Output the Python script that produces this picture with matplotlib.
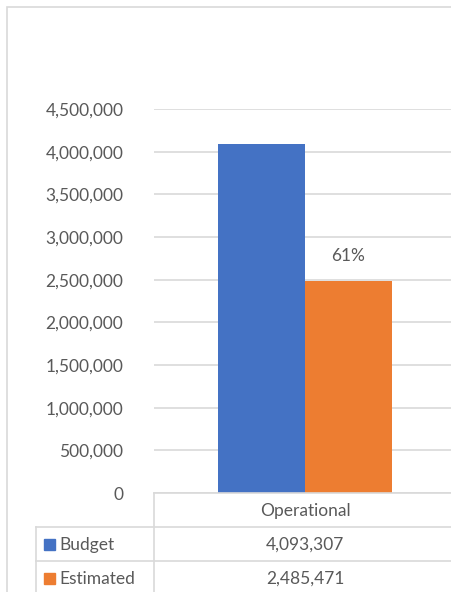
import numpy as np
import matplotlib.pyplot as plt
from matplotlib.lines import Line2D
from matplotlib.patches import Rectangle
from matplotlib.ticker import FuncFormatter

categories = ['Operational']
budget = [4093307]
estimated = [2485471]
series_names = ['Budget', 'Estimated']
colors = ['#4472C4', '#ED7D31']
yticks = np.arange(0, 4500001, 500000)

W, H = 451, 592
plt.rcParams['font.family'] = ['Lato', 'DejaVu Sans']
txt = '#595959'
grid = '#d9d9d9'
fs = 12.5

def fx(px):
    return px / W

def fy(py):
    return 1 - py / H

fig = plt.figure(figsize=(W / 100, H / 100), dpi=100)

# plot area (right side runs past the image edge, like the cropped reference)
ax = fig.add_axes([fx(154), fy(493), fx(456) - fx(154), fy(109) - fy(493)])
x = np.arange(len(categories))
bw = 0.288
ax.bar(x - bw, budget, width=bw, align='edge', color=colors[0], zorder=3)
bars = ax.bar(x, estimated, width=bw, align='edge', color=colors[1], zorder=3)
for b, e, bar in zip(budget, estimated, bars):
    ax.annotate(f"{e / b:.0%}", (bar.get_x() + bar.get_width() / 2, e),
                xytext=(0, 12), textcoords='offset points',
                ha='center', va='bottom', fontsize=fs, color=txt)

ax.set_xlim(-0.5, 0.5)
ax.set_ylim(0, 4500000)
ax.set_yticks(yticks)
ax.yaxis.set_major_formatter(FuncFormatter(lambda v, p: f"{int(v):,}"))
ax.tick_params(axis='y', length=0, pad=22, labelsize=fs, labelcolor=txt)
ax.set_xticks([])
ax.grid(axis='y', color=grid, linewidth=1.2, zorder=0)
for s in ax.spines.values():
    s.set_visible(False)

# outer chart border
fig.add_artist(Rectangle((fx(7), fy(700)), fx(600), fy(7) - fy(700),
                         transform=fig.transFigure, fill=False,
                         edgecolor=grid, linewidth=1.2))

# data table lines
def hline(y, x0, x1=470):
    fig.add_artist(Line2D([fx(x0), fx(x1)], [fy(y), fy(y)], color=grid,
                          linewidth=1.2, transform=fig.transFigure))

def vline(x0, y0, y1=600):
    fig.add_artist(Line2D([fx(x0), fx(x0)], [fy(y0), fy(y1)], color=grid,
                          linewidth=1.2, transform=fig.transFigure))

hline(493, 154)
hline(527, 36)
hline(561, 36)
vline(154, 493)
vline(36, 527)

fig.text(fx(305), fy(511), categories[0], ha='center', va='center',
         fontsize=fs, color=txt)
rows = [budget, estimated]
for i, (name, vals) in enumerate(zip(series_names, rows)):
    yc = 545 + i * 34
    fig.add_artist(Rectangle((fx(44), fy(yc + 5)), fx(11), fy(yc - 6) - fy(yc + 5),
                             transform=fig.transFigure, color=colors[i]))
    fig.text(fx(59), fy(yc), name, ha='left', va='center', fontsize=fs, color=txt)
    fig.text(fx(305), fy(yc), f"{vals[0]:,}", ha='center', va='center',
             fontsize=fs, color=txt)

fig.savefig('out.png', dpi=100, facecolor='white')
